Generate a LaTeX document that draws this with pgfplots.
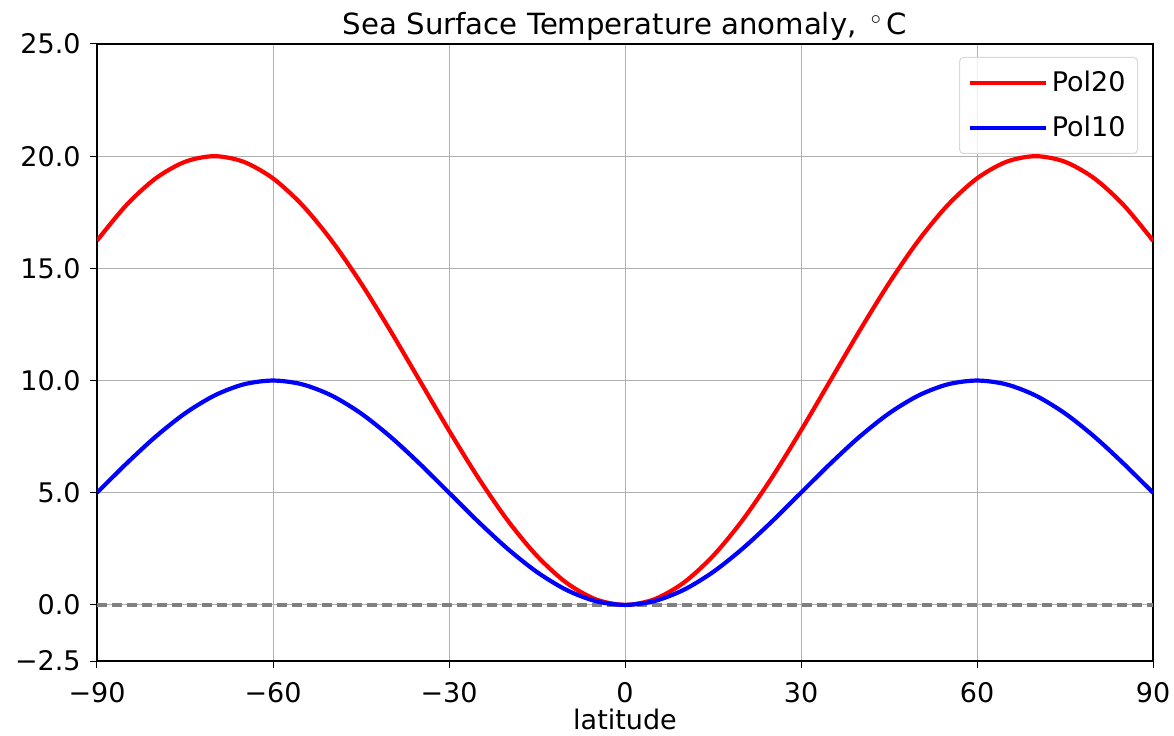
\documentclass[border=0pt]{standalone}
\usepackage{fontspec}
\setmainfont{DejaVu Sans}
\usepackage{pgfplots}
\pgfplotsset{compat=1.18}

\definecolor{gridgray}{HTML}{B0B0B0}
\definecolor{zerogray}{HTML}{808080}

\begin{document}
\begin{tikzpicture}[font=\fontsize{13.5}{16}\selectfont]
% page frame: 1174x735 px at 0.5pt per px
\path[use as bounding box] (-48.5pt,-37pt) rectangle (538.5pt,330.5pt);
\begin{axis}[
  scale only axis,
  width=528pt, height=308.5pt,
  xmin=-90, xmax=90,
  ymin=-2.5, ymax=25,
  clip mode=individual,
  xtick={-90,-60,-30,0,30,60,90},
  xticklabels={−90,−60,−30,0,30,60,90},
  ytick={-2.5,0,5,10,15,20,25},
  yticklabels={−2.5,0.0,5.0,10.0,15.0,20.0,25.0},
  tick align=outside,
  tick pos=left,
  major tick length=3.5pt,
  every tick/.style={black, line width=0.5pt},
  axis line style={black, line width=0.6pt},
  grid=major,
  major grid style={gridgray, line width=0.5pt},
  xticklabel style={anchor=base, inner sep=0pt, yshift=-17pt},
  yticklabel style={anchor=east, inner sep=0pt, xshift=-4.5pt},
  xlabel={latitude},
  xlabel style={at={(0.5,0)}, anchor=base, yshift=-34pt, inner sep=0pt},
  legend cell align={left},
  legend style={at={(rel axis cs:0.9858,0.979)}, anchor=north east,
    draw=black!15, fill=white, fill opacity=0.8, text opacity=1,
    rounded corners=2pt, inner xsep=4pt, inner ysep=5pt,
    row sep=6.5pt, line width=0.5pt},
  legend image code/.code={\draw[#1, line width=2.1pt] (0pt,0pt) -- (30pt,0pt);
    \path (0pt,0pt) -- (38pt,0pt);},
  every axis plot/.append style={line width=2.1pt},
]

% zero line
\addplot[zerogray, line width=2pt, dash pattern=on 5pt off 2.5pt, forget plot]
  coordinates {(-90,0) (90,0)};

% Pol20
\addplot[red, smooth, mark=none] coordinates {
  (-90,16.235) (-85,17.818) (-80,19.010) (-75,19.749) (-70,20.000)
  (-65,19.749) (-60,19.010) (-55,17.818) (-50,16.235) (-45,14.339)
  (-40,12.225) (-35,10.000) (-30,7.775) (-25,5.661) (-20,3.765)
  (-15,2.182) (-10,0.990) (-5,0.251) (0,0.000)
  (5,0.251) (10,0.990) (15,2.182) (20,3.765) (25,5.661)
  (30,7.775) (35,10.000) (40,12.225) (45,14.339) (50,16.235)
  (55,17.818) (60,19.010) (65,19.749) (70,20.000) (75,19.749)
  (80,19.010) (85,17.818) (90,16.235)
};
\addlegendentry{Pol20}

% Pol10
\addplot[blue, smooth, mark=none] coordinates {
  (-90,5.000) (-85,6.294) (-80,7.500) (-75,8.536) (-70,9.330)
  (-65,9.830) (-60,10.000) (-55,9.830) (-50,9.330) (-45,8.536)
  (-40,7.500) (-35,6.294) (-30,5.000) (-25,3.706) (-20,2.500)
  (-15,1.464) (-10,0.670) (-5,0.170) (0,0.000)
  (5,0.170) (10,0.670) (15,1.464) (20,2.500) (25,3.706)
  (30,5.000) (35,6.294) (40,7.500) (45,8.536) (50,9.330)
  (55,9.830) (60,10.000) (65,9.830) (70,9.330) (75,8.536)
  (80,7.500) (85,6.294) (90,5.000)
};
\addlegendentry{Pol10}

% title
\node[anchor=base, inner sep=0pt, yshift=4.5pt, font=\fontsize{14.6}{17}\selectfont]
  at (rel axis cs:0.5,1) {Sea Surface Temperature anomaly, \,$^\circ$\,C};

\end{axis}
\end{tikzpicture}
\end{document}
